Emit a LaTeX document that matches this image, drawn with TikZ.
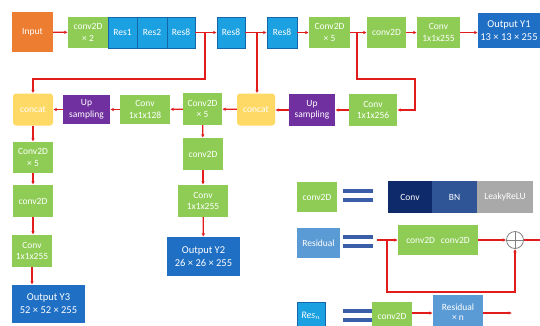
\documentclass[tikz,border=0pt]{standalone}
\usepackage{fontspec}
\setmainfont{Carlito}
\usetikzlibrary{arrows.meta}
\definecolor{cOrange}{HTML}{ED7D31}
\definecolor{cGreen}{HTML}{8FCC55}
\definecolor{cRes}{HTML}{1BA1E2}
\definecolor{cResB}{HTML}{1466A8}
\definecolor{cOut}{HTML}{1F6FC5}
\definecolor{cYellow}{HTML}{FFD966}
\definecolor{cPurple}{HTML}{7030A0}
\definecolor{cRed}{HTML}{E21B1B}
\definecolor{cNavy}{HTML}{0F2A6B}
\definecolor{cBN}{HTML}{2F5597}
\definecolor{cGray}{HTML}{A9A9A9}
\definecolor{cResid}{HTML}{5B9BD5}
\definecolor{cEq}{HTML}{3A5FA8}
\tikzset{
  bx/.style={inner sep=0pt, text=white, align=center, font=\fontsize{9.5}{11.5}\selectfont},
  grn/.style={bx, fill=cGreen},
  resb/.style={bx, fill=cRes, draw=cResB, line width=0.5pt},
  outb/.style={bx, fill=cOut, font=\fontsize{10.5}{13}\selectfont},
  catb/.style={bx, fill=cYellow, rounded corners=3pt},
  upb/.style={bx, fill=cPurple},
  arr/.style={draw=cRed, line width=1.3pt, -{Latex[length=3.5pt,width=3.5pt]}},
  eqbar/.style={fill=cEq, draw=none}
}
\begin{document}
\begin{tikzpicture}[x=1pt,y=-1pt]
\useasboundingbox (0,0) rectangle (540,325);
\clip (0,0) rectangle (540,325);
\fill[white] (0,0) rectangle (540,325);
% top row
\node[bx, fill=cOrange, minimum width=41pt, minimum height=40pt] (input) at (32.5,32) {Input};
\node[grn, minimum width=40pt, minimum height=31pt] (c2x2) at (88,32.5) {conv2D\\× 2};
\node[resb, minimum width=29pt, minimum height=31pt] (res1) at (122.5,32.5) {Res1};
\node[resb, minimum width=30pt, minimum height=31pt] (res2) at (152,32.5) {Res2};
\node[resb, minimum width=28pt, minimum height=31pt] (res8a) at (181,32.5) {Res8};
\node[resb, minimum width=28pt, minimum height=31pt] (res8b) at (231,32.5) {Res8};
\node[resb, minimum width=30pt, minimum height=31pt] (res8c) at (282,32.5) {Res8};
\node[grn, minimum width=41pt, minimum height=31pt] (c2x5a) at (329.5,32.5) {Conv2D\\× 5};
\node[grn, minimum width=39pt, minimum height=31pt] (conv2da) at (386.5,32.5) {conv2D};
\node[grn, minimum width=43pt, minimum height=31pt] (conv255a) at (438.5,32.5) {Conv\\1x1x255};
\node[outb, minimum width=62pt, minimum height=35pt] (outy1) at (509,30.5) {Output Y1\\13 × 13 × 255};
% second row
\node[catb, minimum width=40pt, minimum height=32pt] (cat1) at (33,109.5) {concat};
\node[upb, minimum width=47pt, minimum height=29pt] (up1) at (86.5,109.5) {Up\\sampling};
\node[grn, minimum width=50pt, minimum height=29pt] (conv128) at (145,109.5) {Conv\\1x1x128};
\node[grn, minimum width=39pt, minimum height=32pt] (c2x5b) at (202.5,109) {Conv2D\\× 5};
\node[catb, minimum width=38pt, minimum height=32pt] (cat2) at (256,109.5) {concat};
\node[upb, minimum width=46pt, minimum height=32pt] (up2) at (312,110) {Up\\sampling};
\node[grn, minimum width=48pt, minimum height=32pt] (conv256) at (373,110) {Conv\\1x1x256};
% middle column
\node[grn, minimum width=40pt, minimum height=32pt] (conv2db) at (203,154) {conv2D};
\node[grn, minimum width=50pt, minimum height=32pt] (conv255b) at (203,201) {Conv\\1x1x255};
\node[outb, minimum width=73pt, minimum height=39pt] (outy2) at (203.5,256.5) {Output Y2\\26 × 26 × 255};
% left column
\node[grn, minimum width=40pt, minimum height=31pt] (c2x5c) at (33,157.5) {Conv2D\\× 5};
\node[grn, minimum width=40pt, minimum height=32pt] (conv2dc) at (33,201) {conv2D};
\node[grn, minimum width=40pt, minimum height=32pt] (conv255c) at (32,251) {Conv\\1x1x255};
\node[outb, minimum width=73pt, minimum height=38pt] (outy3) at (48.5,304) {Output Y3\\52 × 52 × 255};
% connectors main
\draw[arr] (input) -- (c2x2);
\draw[arr] (res8a) -- (res8b);
\draw[arr] (res8b) -- (res8c);
\draw[arr] (res8c) -- (c2x5a);
\draw[arr] (c2x5a) -- (conv2da);
\draw[arr] (conv2da) -- (conv255a);
\draw[arr] (conv255a) -- (outy1.west |- conv255a);
\coordinate (b1) at (205,32.5);
\coordinate (b2) at (257,32.5);
\coordinate (b3) at (357,32.5);
\draw[arr] (b1) -- (205,79) -- (33,79) -- (cat1.north);
\draw[arr] (b2) -- (cat2.north -| b2);
\draw[arr] (b3) -- (357,79) -- (415,79) -- (415,110) -- (conv256.east);
\draw[arr] (conv256) -- (up2);
\draw[arr] (up2) -- (cat2.east |- up2);
\draw[arr] (cat2) -- (c2x5b);
\draw[arr] (c2x5b) -- (conv128);
\draw[arr] (conv128) -- (up1);
\draw[arr] (up1) -- (cat1);
\draw[arr] (c2x5b) -- (conv2db);
\draw[arr] (conv2db) -- (conv255b);
\draw[arr] (conv255b) -- (outy2);
\draw[arr] (cat1) -- (c2x5c);
\draw[arr] (c2x5c) -- (conv2dc);
\draw[arr] (conv2dc) -- (conv255c.north -| conv2dc);
\draw[arr] (conv255c) -- (outy3.north -| conv255c);
% legend
\node[grn, minimum width=40pt, minimum height=30pt] (lconv2d) at (317,197) {conv2D};
\fill[eqbar] (343,189) rectangle (373,193);
\fill[eqbar] (343,198) rectangle (373,202);
\node[bx, fill=cNavy, minimum width=44pt, minimum height=32pt] (lconv) at (410,197) {Conv};
\node[bx, fill=cBN, minimum width=45pt, minimum height=32pt] (lbn) at (454.5,197) {BN};
\node[bx, fill=cGray, minimum width=56pt, minimum height=32pt] (lrelu) at (505,197) {LeakyReLU};
\node[bx, fill=cResid, minimum width=43pt, minimum height=30pt] (lres) at (318.5,243) {Residual};
\fill[eqbar] (343,235) rectangle (373,239);
\fill[eqbar] (343,244) rectangle (373,248);
\node[grn, minimum width=80pt, minimum height=30pt] (lcc) at (438,240) {conv2D\hspace{6pt}conv2D};
\node[circle, draw=gray, line width=0.8pt, minimum size=17pt, inner sep=0pt] (plus) at (515,240) {};
\draw[gray, line width=0.8pt] (plus.north) -- (plus.south) (plus.west) -- (plus.east);
\coordinate (rin) at (377,240);
\coordinate (rsk) at (387,240);
\coordinate (rout) at (548,240);
\draw[arr] (rin) -- (lcc);
\draw[arr] (rsk) -- (387,292) -- (515,292) -- (plus.south);
\draw[arr] (lcc) -- (plus);
\draw[arr] (plus) -- (rout);
\node[bx, fill=cRes, draw=cResB, line width=0.5pt, minimum width=28pt, minimum height=28pt, font=\fontsize{10}{11}\selectfont] (lresn) at (311,316) {\textit{Res}$_n$};
\fill[eqbar] (343,309) rectangle (373,313);
\fill[eqbar] (343,318) rectangle (373,322);
\node[grn, minimum width=40pt, minimum height=28pt] (lconv2dd) at (392,316) {conv2D};
\node[bx, fill=cResid, minimum width=50pt, minimum height=34pt, font=\fontsize{9.5}{10.5}\selectfont] (lresid) at (458,312) {Residual\\× n};
\coordinate (nout) at (512,313);
\draw[arr] (lconv2dd.east |- nout) -- (lresid.west |- nout);
\draw[arr] (lresid.east |- nout) -- (nout);
\end{tikzpicture}
\end{document}
